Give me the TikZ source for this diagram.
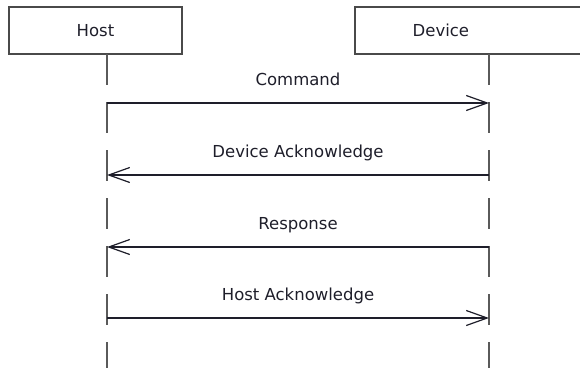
\documentclass[tikz,border=0pt]{standalone}
\usepackage{fontspec}
\setmainfont{DejaVu Sans}
\usetikzlibrary{arrows.meta,positioning}
\definecolor{BoxEdge}{HTML}{4A4A4A}
\definecolor{LifeGray}{HTML}{5A5A5A}
\definecolor{MsgInk}{HTML}{1E1E2A}

\begin{document}
\begin{tikzpicture}[x=1pt, y=-1pt,
    actor/.style={draw=BoxEdge, line width=1.8pt, minimum height=47pt, inner sep=0pt,
        text=MsgInk, font=\fontsize{16.5}{19}\selectfont},
    lifeline/.style={LifeGray, line width=1.8pt, dash pattern=on 31pt off 17pt},
    msg/.style={MsgInk, line width=1.4pt, -{Straight Barb[length=21pt, width=15pt, line width=1.2pt]}},
    msglbl/.style={anchor=base, text=MsgInk, font=\fontsize{16.5}{19}\selectfont}]
    \clip (0,0) rectangle (580,367);

    % Actors
    \node[actor, minimum width=173pt] (host) at (95.5,30.5) {Host};
    \node[actor, anchor=west, minimum width=260pt,
        label={[xshift=-44pt, text=MsgInk, font=\fontsize{16.5}{19}\selectfont]center:Device}] (device) at (354,30.5) {};

    % Lifelines
    \coordinate (hostTop) at (107,54);
    \coordinate (devTop) at (489,54);
    \draw[lifeline] (hostTop) -- ++(0,322);
    \draw[lifeline] (devTop) -- ++(0,322);

    % Command
    \coordinate (h1) at (107,103);
    \coordinate (d1) at (489,103);
    \draw[msg] (h1) -- (d1);
    \node[msglbl] (cmd) at (298,85) {Command};

    % Device Acknowledge
    \coordinate (h2) at (107,175);
    \coordinate (d2) at (489,175);
    \draw[msg] (d2) -- (h2);
    \node[msglbl] (devack) at (298,157.5) {Device Acknowledge};

    % Response
    \coordinate (h3) at (107,247);
    \coordinate (d3) at (489,247);
    \draw[msg] (d3) -- (h3);
    \node[msglbl] (resp) at (298,229.5) {Response};

    % Host Acknowledge
    \coordinate (h4) at (107,318);
    \coordinate (d4) at (489,318);
    \draw[msg] (h4) -- (d4);
    \node[msglbl] (hostack) at (298,300.5) {Host Acknowledge};

\end{tikzpicture}
\end{document}
